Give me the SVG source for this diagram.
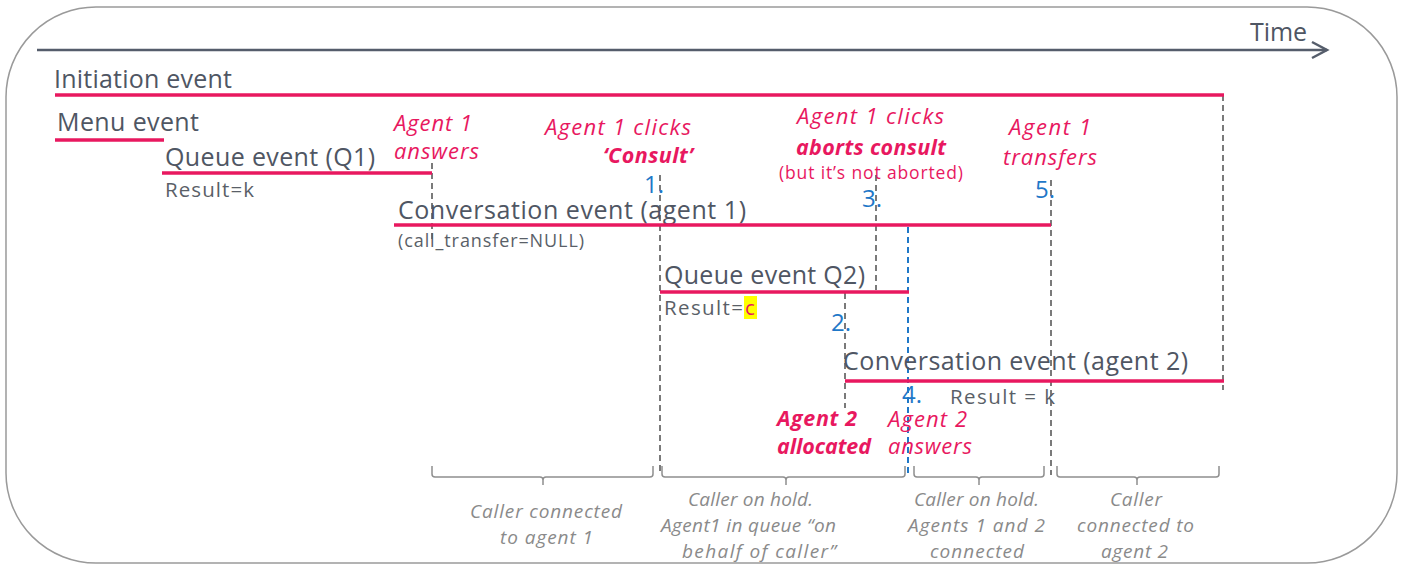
<svg xmlns="http://www.w3.org/2000/svg" width="1403" height="565" viewBox="0 0 1403 565">
<style>
.lbl{font-family:"Open Sans","Liberation Sans",sans-serif;fill:#4f5663;font-size:25px}
.sub{font-family:"Open Sans","Liberation Sans",sans-serif;fill:#5a5f68;font-size:20.5px}
.sm{font-family:"Open Sans","Liberation Sans",sans-serif;fill:#5a5f68;font-size:18px}
.act{font-family:"Open Sans","Liberation Sans",sans-serif;fill:#e8185f;font-size:22px;font-style:italic}
.actb{font-family:"Open Sans","Liberation Sans",sans-serif;fill:#e8185f;font-size:21.5px;font-style:italic;font-weight:bold}
.num{font-family:"Open Sans","Liberation Sans",sans-serif;fill:#1f78c8;font-size:24px}
.note{font-family:"Open Sans","Liberation Sans",sans-serif;fill:#8a8a8a;font-size:19px;font-style:italic}
.ev{stroke:#e8185f;stroke-width:3.5;fill:none}
.dg{stroke:#7a7a7a;stroke-width:2;stroke-dasharray:6 4;fill:none}
.db{stroke:#1f78c8;stroke-width:2;stroke-dasharray:6 4;fill:none}
.br{stroke:#8f8f8f;stroke-width:1.5;fill:none}
</style>
<rect x="6" y="7" width="1391" height="556" rx="90" ry="90" fill="#ffffff" stroke="#9a9a9a" stroke-width="1.5"/>
<g id="time-axis">
<line x1="37" y1="50" x2="1327" y2="50" stroke="#555d6b" stroke-width="2.5"/>
<polyline points="1312,42 1327,50 1312,58" fill="none" stroke="#555d6b" stroke-width="2.5"/>
<text x="1250" y="41" class="lbl" textLength="57" lengthAdjust="spacing">Time</text>
</g>
<g id="connectors">
<line class="dg" x1="432" y1="163" x2="432" y2="242"/>
<line class="dg" x1="660" y1="175" x2="660" y2="475"/>
<line class="dg" x1="876" y1="175" x2="876" y2="290"/>
<line class="dg" x1="845" y1="293" x2="845" y2="408"/>
<line class="dg" x1="1051" y1="180" x2="1051" y2="475"/>
<line class="dg" x1="1223" y1="95" x2="1223" y2="390"/>
<line class="db" x1="908" y1="227" x2="908" y2="475"/>
</g>
<g id="initiation-event">
<text x="54" y="88" class="lbl" textLength="178" lengthAdjust="spacing">Initiation event</text>
<line class="ev" x1="55" y1="95" x2="1224" y2="95"/>
</g>
<g id="menu-event">
<text x="57" y="131" class="lbl" textLength="142" lengthAdjust="spacing">Menu event</text>
<line class="ev" x1="55" y1="140" x2="164" y2="140"/>
</g>
<g id="queue-event-q1">
<text x="165" y="166" class="lbl" textLength="210" lengthAdjust="spacing">Queue event (Q1)</text>
<line class="ev" x1="162" y1="173" x2="432" y2="173"/>
<text x="165" y="197" class="sub" textLength="89" lengthAdjust="spacing">Result=k</text>
</g>
<g id="conversation-agent1">
<text x="398" y="219" class="lbl" textLength="348" lengthAdjust="spacing">Conversation event (agent 1)</text>
<line class="ev" x1="394" y1="225" x2="1051" y2="225"/>
<text x="398" y="247" class="sm" textLength="186" lengthAdjust="spacing">(call_transfer=NULL)</text>
</g>
<g id="queue-event-q2">
<text x="664" y="284" class="lbl" textLength="201" lengthAdjust="spacing">Queue event Q2)</text>
<line class="ev" x1="660" y1="292" x2="909" y2="292"/>
<rect x="744" y="296" width="13" height="23" fill="#ffff00"/>
<text x="664" y="315" class="sub" textLength="79" lengthAdjust="spacing">Result=</text>
<text x="745" y="315" class="sub" style="fill:#e8185f">c</text>
</g>
<g id="conversation-agent2">
<text x="843" y="370" class="lbl" textLength="345" lengthAdjust="spacing">Conversation event (agent 2)</text>
<line class="ev" x1="845" y1="381" x2="1224" y2="381"/>
<text x="950" y="404" class="sub" textLength="105" lengthAdjust="spacing">Result = k</text>
</g>
<g id="step-answer">
<text x="394" y="131" class="act" textLength="78" lengthAdjust="spacing">Agent 1</text>
<text x="394" y="159" class="act" textLength="85" lengthAdjust="spacing">answers</text>
</g>
<g id="step-consult">
<text x="545" y="135" class="act" textLength="146" lengthAdjust="spacing">Agent 1 clicks</text>
<text x="603" y="163" class="actb" textLength="90" lengthAdjust="spacing">‘Consult’</text>
<text x="664" y="193" class="num" text-anchor="end">1.</text>
</g>
<g id="step-abort">
<text x="797" y="124" class="act" textLength="147" lengthAdjust="spacing">Agent 1 clicks</text>
<text x="796" y="155" class="actb" textLength="150" lengthAdjust="spacing">aborts consult</text>
<text x="779" y="179" class="act" style="font-style:normal;font-size:17.5px" textLength="184" lengthAdjust="spacing">(but it’s not aborted)</text>
<text x="882" y="207" class="num" text-anchor="end">3.</text>
</g>
<g id="step-transfer">
<text x="1009" y="135" class="act" textLength="82" lengthAdjust="spacing">Agent 1</text>
<text x="1003" y="165" class="act" textLength="94" lengthAdjust="spacing">transfers</text>
<text x="1055" y="198" class="num" text-anchor="end">5.</text>
</g>
<g id="step-allocated">
<text x="851" y="331" class="num" text-anchor="end">2.</text>
<text x="777" y="426" class="actb" textLength="80" lengthAdjust="spacing">Agent 2</text>
<text x="777" y="454" class="actb" textLength="94" lengthAdjust="spacing">allocated</text>
</g>
<g id="step-answers">
<text x="922" y="403" class="num" text-anchor="end">4.</text>
<text x="888" y="427" class="act" textLength="79" lengthAdjust="spacing">Agent 2</text>
<text x="888" y="454" class="act" textLength="84" lengthAdjust="spacing">answers</text>
</g>
<g id="phase-1">
<path class="br" d="M432,466 v8 q0,3 3,3 h105 q3,0 3,3 v5 M543,480 q0,-3 3,-3 h104 q3,0 3,-3 v-8"/>
<text x="470" y="518" class="note" textLength="152" lengthAdjust="spacing">Caller connected</text>
<text x="500" y="544" class="note" textLength="93" lengthAdjust="spacing">to agent 1</text>
</g>
<g id="phase-2">
<path class="br" d="M662,466 v8 q0,3 3,3 h118 q3,0 3,3 v5 M786,480 q0,-3 3,-3 h113 q3,0 3,-3 v-8"/>
<text x="688" y="506" class="note" textLength="125" lengthAdjust="spacing">Caller on hold.</text>
<text x="661" y="532" class="note" textLength="175" lengthAdjust="spacing">Agent1 in queue “on</text>
<text x="682" y="558" class="note" textLength="154" lengthAdjust="spacing">behalf of caller”</text>
</g>
<g id="phase-3">
<path class="br" d="M914,466 v8 q0,3 3,3 h59 q3,0 3,3 v5 M979,480 q0,-3 3,-3 h59 q3,0 3,-3 v-8"/>
<text x="914" y="506" class="note" textLength="125" lengthAdjust="spacing">Caller on hold.</text>
<text x="908" y="532" class="note" textLength="137" lengthAdjust="spacing">Agents 1 and 2</text>
<text x="930" y="558" class="note" textLength="94" lengthAdjust="spacing">connected</text>
</g>
<g id="phase-4">
<path class="br" d="M1057,466 v8 q0,3 3,3 h74 q3,0 3,3 v5 M1137,480 q0,-3 3,-3 h76 q3,0 3,-3 v-8"/>
<text x="1110" y="506" class="note" textLength="52" lengthAdjust="spacing">Caller</text>
<text x="1077" y="532" class="note" textLength="117" lengthAdjust="spacing">connected to</text>
<text x="1101" y="558" class="note" textLength="67" lengthAdjust="spacing">agent 2</text>
</g>
</svg>
